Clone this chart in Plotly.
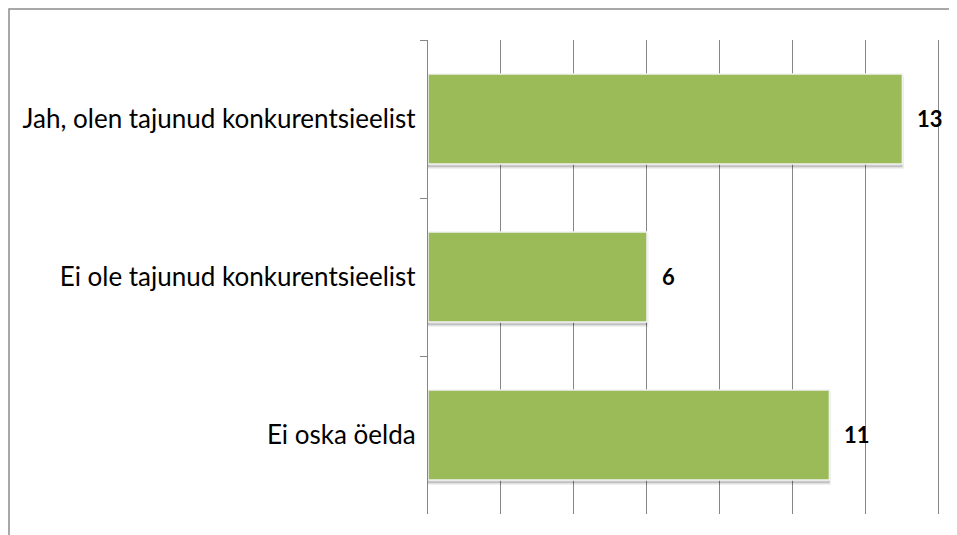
import plotly.graph_objects as go

categories = ["Jah, olen tajunud konkurentsieelist", "Ei ole tajunud konkurentsieelist", "Ei oska öelda"]
values = [13, 6, 11]

BAR_COLOR = "#9BBB59"
GRID = "#868686"
FONT = "Lato"

# page body has an 8px margin
W, H = 949, 527
L, R, T, B = 420, 17, 32, 21
pw, ph = W - L - R, H - T - B

fig = go.Figure()

# soft shadow
fig.add_trace(go.Bar(
    y=categories, x=values, orientation="h",
    marker=dict(color="rgba(0,0,0,0.18)", line=dict(color="rgba(0,0,0,0.08)", width=3)),
    width=0.57, offset=-0.285 + 0.02, hoverinfo="skip", showlegend=False,
))
fig.add_trace(go.Bar(
    y=categories, x=values, orientation="h",
    marker=dict(color=BAR_COLOR, line=dict(color="#F2F2F2", width=1.5)),
    width=0.57, offset=-0.285, showlegend=False,
))

for c, v in zip(categories, values):
    fig.add_annotation(x=v, y=c, text=f"<b>{v}</b>", showarrow=False,
                       xanchor="left", xshift=13, yshift=1,
                       font=dict(family=FONT, size=22, color="black"))

# outer chart border
fig.add_shape(type="rect", xref="paper", yref="paper",
              x0=-(L - 1) / pw, x1=1 + (R + 20) / pw,
              y0=-(B + 20) / ph, y1=1 + (T - 1) / ph,
              line=dict(color="#8C8C8C", width=1.5), layer="below")

fig.update_layout(
    width=W, height=H,
    margin=dict(l=L, r=R, t=T, b=B),
    paper_bgcolor="white", plot_bgcolor="white",
    barmode="overlay",
    font=dict(family=FONT, size=26, color="black"),
    xaxis=dict(range=[0, 14.03], dtick=2, showticklabels=False, showgrid=True,
               gridcolor=GRID, gridwidth=1.3, zeroline=False, showline=False,
               ticks=""),
    yaxis=dict(autorange="reversed", type="category", tickson="boundaries",
               ticks="outside", ticklen=7, tickcolor=GRID, tickwidth=1.3,
               showline=True, linecolor=GRID, linewidth=1.3, showgrid=False,
               ticklabelstandoff=6, tickfont=dict(family=FONT, size=26)),
)

fig.write_html("out.html")
